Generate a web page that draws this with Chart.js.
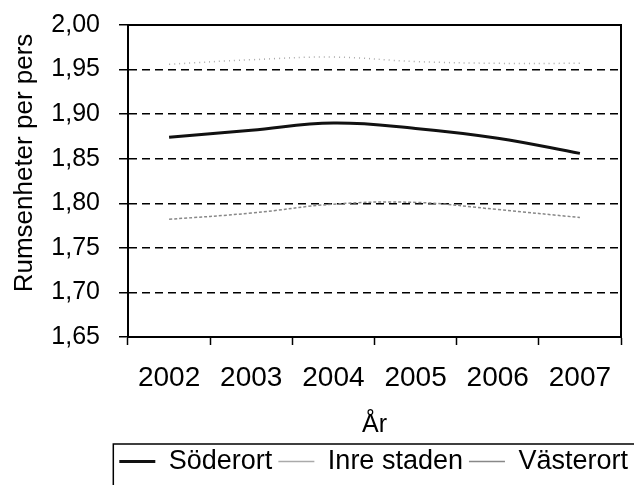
<!DOCTYPE html>
<html>
<head>
<meta charset="utf-8">
<script src="https://cdn.jsdelivr.net/npm/chart.js@4"></script>
<style>
  html, body { margin: 0; padding: 0; background: #fff; }
  #wrap { width: 634px; height: 485px; position: relative; }
</style>
</head>
<body>
<div id="wrap"><canvas id="chart"></canvas></div>
<script>
const years = ['2002', '2003', '2004', '2005', '2006', '2007'];
const soderort = [1.874, 1.882, 1.890, 1.884, 1.873, 1.856];
const inreStaden = [1.956, 1.961, 1.964, 1.959, 1.957, 1.957];
const vasterort = [1.782, 1.789, 1.799, 1.801, 1.793, 1.784];

const yMin = 1.65;
const yMax = 2.00;
const yStep = 0.05;
const yTitle = 'Rumsenheter per pers';
const xTitle = 'År';

const FONT = "'Liberation Sans', Arial, sans-serif";

// solid top edge of the plot frame, and the y title drawn by hand
// so it can sit a bit above the axis centre like the original
const framePlugin = {
    id: 'frame',
    afterDraw(chart) {
        const ctx = chart.ctx;
        const a = chart.chartArea;
        ctx.save();
        ctx.strokeStyle = '#000';
        ctx.lineWidth = 2;
        ctx.beginPath();
        ctx.moveTo(a.left, a.top);
        ctx.lineTo(a.right, a.top);
        ctx.stroke();

        ctx.translate(25, 163);
        ctx.rotate(-Math.PI / 2);
        ctx.font = '26px ' + FONT;
        ctx.fillStyle = '#000';
        ctx.textAlign = 'center';
        ctx.textBaseline = 'middle';
        ctx.fillText(yTitle, 0, 0);
        ctx.restore();
    }
};

// open box round the legend (left and top edges only)
const legendBoxPlugin = {
    id: 'legendBox',
    afterDraw(chart) {
        const lg = chart.legend;
        if (!lg || !lg.legendHitBoxes.length) return;
        const ctx = chart.ctx;
        const x0 = lg.legendHitBoxes[0].left - 6;
        const y0 = lg.top + 2;
        ctx.save();
        ctx.strokeStyle = '#000';
        ctx.lineWidth = 1.5;
        ctx.beginPath();
        ctx.moveTo(x0, chart.height);
        ctx.lineTo(x0, y0);
        ctx.lineTo(chart.width, y0);
        ctx.stroke();
        ctx.restore();
    }
};

new Chart(document.getElementById('chart'), {
    type: 'line',
    data: {
        labels: years,
        datasets: [
            {
                label: 'Söderort',
                data: soderort,
                borderColor: '#111',
                borderWidth: 3,
                tension: 0.4,
                pointRadius: 0
            },
            {
                label: 'Inre staden',
                data: inreStaden,
                borderColor: '#aaa',
                borderWidth: 1.5,
                borderDash: [1, 4],
                tension: 0.4,
                pointRadius: 0
            },
            {
                label: 'Västerort',
                data: vasterort,
                borderColor: '#888',
                borderWidth: 1.5,
                borderDash: [3, 2],
                tension: 0.4,
                pointRadius: 0
            }
        ]
    },
    options: {
        responsive: true,
        maintainAspectRatio: false,
        animation: false,
        layout: { padding: { top: 25 } },
        plugins: {
            tooltip: { enabled: false },
            legend: {
                position: 'bottom',
                align: 'end',
                labels: {
                    usePointStyle: true,
                    pointStyle: 'line',
                    pointStyleWidth: 36,
                    padding: 6,
                    color: '#000',
                    font: { family: FONT, size: 27 }
                }
            }
        },
        scales: {
            x: {
                offset: true,
                grid: {
                    offset: true,
                    drawOnChartArea: false,
                    tickLength: 8,
                    tickColor: '#000',
                    tickWidth: 1.5
                },
                border: { display: true, color: '#000', width: 2 },
                ticks: {
                    color: '#000',
                    padding: 16,
                    font: { family: FONT, size: 28 }
                },
                title: {
                    display: true,
                    text: xTitle,
                    color: '#000',
                    padding: { top: 0, bottom: 2 },
                    font: { family: FONT, size: 25 }
                },
                afterFit: (scale) => { scale.height = 105; }
            },
            y: {
                min: yMin,
                max: yMax,
                ticks: {
                    stepSize: yStep,
                    color: '#000',
                    padding: 19,
                    font: { family: FONT, size: 25 },
                    callback: (v) => v.toFixed(2).replace('.', ',')
                },
                grid: {
                    color: '#000',
                    lineWidth: 1.5,
                    tickLength: 9,
                    tickColor: '#000',
                    tickWidth: 1.5
                },
                border: { display: true, color: '#000', width: 2, dash: [8, 5] },
                afterFit: (scale) => {
                    scale.width = 128;
                    // tick padding would otherwise push the plot down
                    scale.paddingTop = 0;
                    scale.paddingBottom = 0;
                }
            },
            yRight: {
                type: 'linear',
                position: 'right',
                grid: { display: false },
                ticks: { display: false },
                border: { display: true, color: '#000', width: 2 },
                afterFit: (scale) => { scale.width = 13; }
            }
        }
    },
    plugins: [framePlugin, legendBoxPlugin]
});
</script>
</body>
</html>
